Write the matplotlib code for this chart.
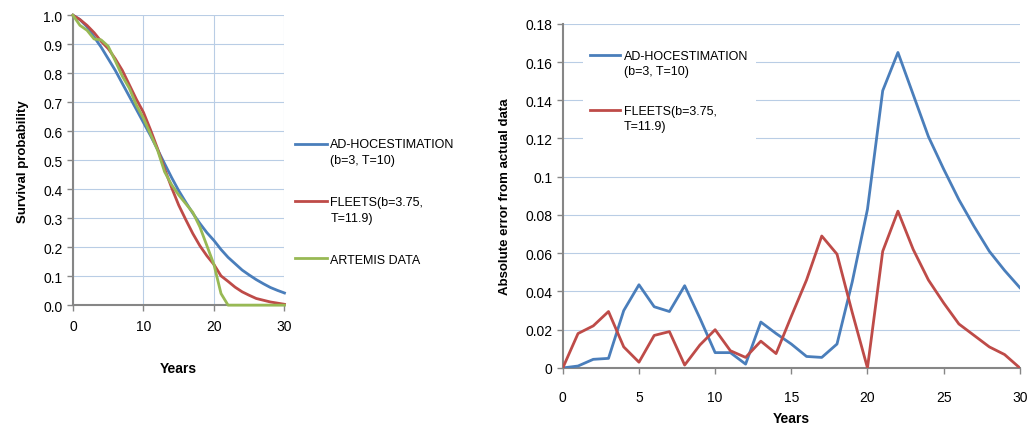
import numpy as np
import matplotlib
matplotlib.use("Agg")
import matplotlib.pyplot as plt
from matplotlib.legend_handler import HandlerLine2D

plt.rcParams['font.family'] = ['Liberation Sans', 'DejaVu Sans']

# Survival curves (left panel)
years = list(range(31))
adhoc = [1.0, 0.985, 0.96, 0.925, 0.89, 0.85, 0.81, 0.765, 0.72, 0.675,
         0.63, 0.585, 0.537, 0.488, 0.44, 0.395, 0.355, 0.317, 0.282, 0.25,
         0.223, 0.192, 0.165, 0.143, 0.121, 0.104, 0.088, 0.074, 0.061, 0.051, 0.042]
fleets = [1.0, 0.985, 0.965, 0.94, 0.91, 0.885, 0.85, 0.81, 0.76, 0.71,
          0.665, 0.605, 0.54, 0.47, 0.405, 0.345, 0.295, 0.247, 0.205, 0.17,
          0.14, 0.101, 0.082, 0.062, 0.046, 0.034, 0.023, 0.017, 0.011, 0.007, 0.003]
artemis = [1.0, 0.965, 0.948, 0.918, 0.915, 0.893, 0.843, 0.79, 0.748, 0.69,
           0.645, 0.59, 0.535, 0.46, 0.415, 0.38, 0.35, 0.32, 0.27, 0.205,
           0.14, 0.04, 0, 0, 0, 0, 0, 0, 0, 0, 0]

# Absolute errors (right panel)
err_adhoc = [0, 0.001, 0.0045, 0.005, 0.030, 0.0435, 0.032, 0.0295, 0.043, 0.026,
             0.008, 0.008, 0.002, 0.024, 0.018, 0.0125, 0.006, 0.0055, 0.0125, 0.045,
             0.083, 0.145, 0.165, 0.143, 0.121, 0.104, 0.088, 0.074, 0.061, 0.051, 0.042]
err_fleets = [0, 0.018, 0.022, 0.0295, 0.011, 0.003, 0.017, 0.019, 0.0015, 0.012,
              0.020, 0.009, 0.0055, 0.014, 0.0075, 0.027, 0.046, 0.069, 0.0595, 0.029,
              0.0, 0.061, 0.082, 0.062, 0.046, 0.034, 0.023, 0.017, 0.011, 0.007, 0.0]

lbl_adhoc = "AD-HOCESTIMATION\n(b=3, T=10)"
lbl_fleets = "FLEETS(b=3.75,\nT=11.9)"
lbl_artemis = "ARTEMIS DATA"

blue = '#4a7ebb'
red = '#be4b48'
green = '#98b954'
grid_c = '#b9cde5'
spine_c = '#868686'


# legend key level with the first line of a two-line label (like Excel)
class FirstLineHandler(HandlerLine2D):
    def create_artists(self, legend, orig_handle, xdescent, ydescent,
                       width, height, fontsize, trans):
        arts = super().create_artists(legend, orig_handle, xdescent, ydescent,
                                      width, height, fontsize, trans)
        for a in arts:
            a.set_ydata(np.asarray(a.get_ydata()) + 0.7 * fontsize)
        return arts


fig = plt.figure(figsize=(10.27, 4.27), dpi=100)

# left panel
ax1 = fig.add_axes([0.071, 0.283, 0.206, 0.679])
l1, = ax1.plot(years, adhoc, color=blue, lw=2.0, label=lbl_adhoc, clip_on=False, zorder=4)
l2, = ax1.plot(years, fleets, color=red, lw=2.0, label=lbl_fleets, clip_on=False, zorder=4)
ax1.plot(years, artemis, color=green, lw=2.0, label=lbl_artemis, clip_on=False, zorder=5)
ax1.set_xlim(0, 30)
ax1.set_ylim(0, 1.0)
ax1.set_xticks([0, 10, 20, 30])
ax1.set_yticks(np.arange(0, 1.01, 0.1))
ax1.set_yticklabels([f"{v:.1f}" for v in np.arange(0, 1.01, 0.1)])
ax1.grid(True, color=grid_c, lw=0.8)
ax1.set_axisbelow(True)
ax1.set_xlabel("Years", fontsize=10, fontweight='bold', labelpad=20)
ax1.set_ylabel("Survival probability", fontsize=9.5, fontweight='bold', labelpad=10)
leg1 = ax1.legend(loc='upper left', bbox_to_anchor=(0.276, 0.7), bbox_transform=fig.transFigure,
                  frameon=False, fontsize=9, handlelength=2.6, labelspacing=2.4,
                  handletextpad=0.25,
                  handler_map={l1: FirstLineHandler(), l2: FirstLineHandler()})

# right panel
ax2 = fig.add_axes([0.548, 0.136, 0.445, 0.806])
r1, = ax2.plot(years, err_adhoc, color=blue, lw=2.0, label=lbl_adhoc, zorder=4)
r2, = ax2.plot(years, err_fleets, color=red, lw=2.0, label=lbl_fleets, zorder=4)
ax2.set_xlim(0, 30)
ax2.set_ylim(0, 0.18)
ax2.set_xticks(range(0, 31, 5))
yt = np.round(np.arange(0, 0.181, 0.02), 2)
ax2.set_yticks(yt)
ax2.set_yticklabels(["0" if v == 0 else f"{v:g}" for v in yt])
ax2.grid(True, axis='y', color=grid_c, lw=0.8)
ax2.set_axisbelow(True)
ax2.set_xlabel("Years", fontsize=10, fontweight='bold', labelpad=5)
ax2.set_ylabel("Absolute error from actual data", fontsize=9.5, fontweight='bold', labelpad=10)
leg2 = ax2.legend(loc='upper left', bbox_to_anchor=(0.03, 0.965), frameon=True, fancybox=False,
                  fontsize=9, handlelength=2.4, labelspacing=2.2, handletextpad=0.3,
                  borderpad=0.6,
                  handler_map={r1: FirstLineHandler(), r2: FirstLineHandler()})
leg2.get_frame().set_facecolor('white')
leg2.get_frame().set_edgecolor('none')
leg2.get_frame().set_alpha(1.0)
for t in list(leg1.get_texts()) + list(leg2.get_texts()):
    t.set_linespacing(1.4)

for ax in (ax1, ax2):
    for s in ('top', 'right'):
        ax.spines[s].set_visible(False)
    for s in ('left', 'bottom'):
        ax.spines[s].set_color(spine_c)
        ax.spines[s].set_linewidth(1.5)
    ax.tick_params(direction='out', color=spine_c, length=4, width=1, labelsize=10)
ax1.tick_params(axis='x', pad=6)
ax2.tick_params(axis='x', pad=12)

fig.savefig("out.png", dpi=100)
